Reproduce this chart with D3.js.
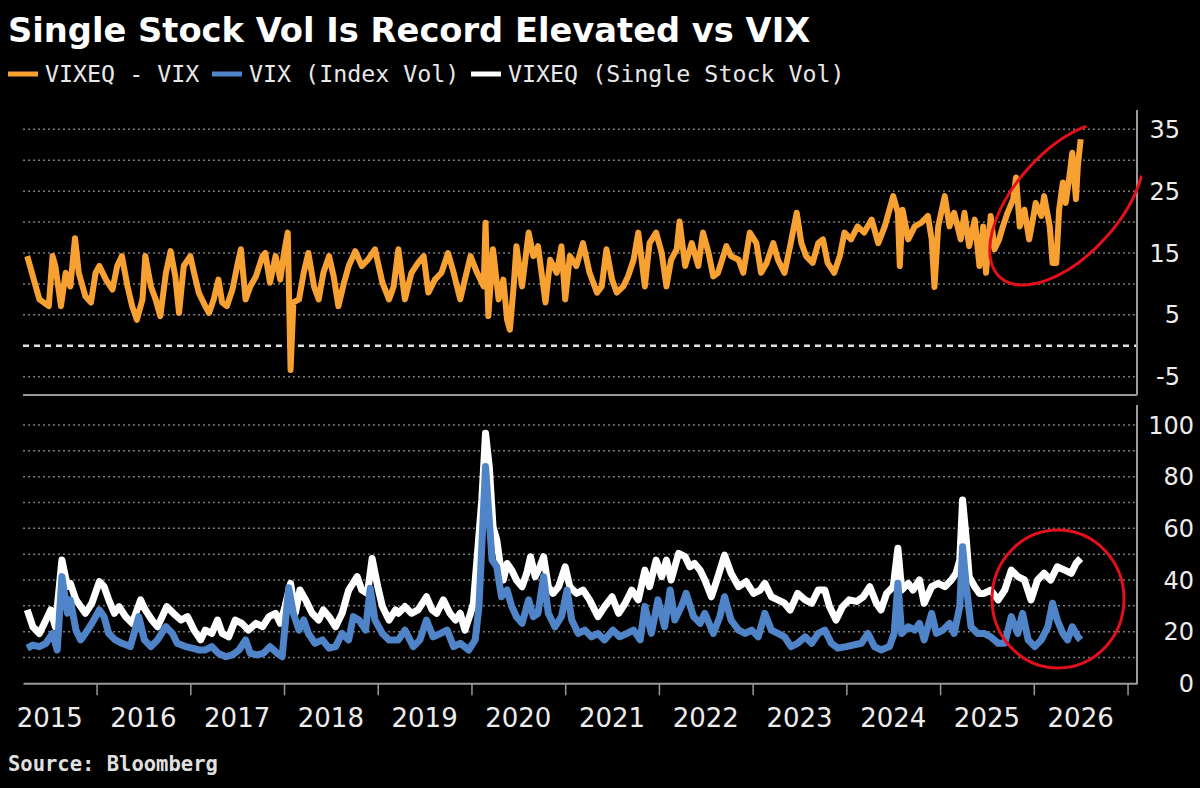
<!DOCTYPE html>
<html>
<head>
<meta charset="utf-8">
<script src="https://cdn.jsdelivr.net/npm/d3@7"></script>
<style>
    body { margin: 0; background: #000; }
    svg { display: block; }
    .grid { stroke: #7a7a7a; stroke-width: 1.5; stroke-dasharray: 2,3; }
    .zero { stroke: #e0e0e0; stroke-width: 2.5; stroke-dasharray: 6,5; }
    .axisline { stroke: #9a9a9a; stroke-width: 2; }
    .ylab { fill: #ececec; font-family: "DejaVu Sans", sans-serif; font-size: 24px; }
    .xlab { fill: #ececec; font-family: "DejaVu Sans", sans-serif; font-size: 26px; }
    .legend { fill: #e8e8e8; font-family: "DejaVu Sans Mono", monospace; font-size: 23.3px; }
</style>
</head>
<body>
<svg id="chart" width="1200" height="788"></svg>
<script>
// VIXEQ - VIX (top panel)
const spreadYears = [
    2015.26, 2015.39, 2015.49, 2015.53, 2015.56, 2015.62, 2015.67, 2015.72, 2015.77, 2015.81, 2015.88, 2015.94, 2015.99,
    2016.03, 2016.10, 2016.17, 2016.22, 2016.27, 2016.33, 2016.38, 2016.43, 2016.49, 2016.52, 2016.58, 2016.63, 2016.68,
    2016.74, 2016.79, 2016.84, 2016.88, 2016.93, 2017.00, 2017.04, 2017.09, 2017.16, 2017.20, 2017.25, 2017.30, 2017.34,
    2017.39, 2017.45, 2017.50, 2017.54, 2017.59, 2017.64, 2017.70, 2017.77, 2017.80, 2017.85, 2017.91, 2017.96, 2018.00,
    2018.04, 2018.07, 2018.10, 2018.16, 2018.21, 2018.26, 2018.32, 2018.37, 2018.42, 2018.48, 2018.53, 2018.58, 2018.64,
    2018.69, 2018.76, 2018.83, 2018.90, 2018.97, 2019.05, 2019.12, 2019.17, 2019.22, 2019.29, 2019.36, 2019.43, 2019.49,
    2019.54, 2019.61, 2019.68, 2019.75, 2019.81, 2019.88, 2019.93, 2019.99, 2020.06, 2020.13, 2020.15, 2020.18, 2020.23,
    2020.29, 2020.34, 2020.38, 2020.41, 2020.45, 2020.48, 2020.54, 2020.61, 2020.66, 2020.71, 2020.79, 2020.84, 2020.91,
    2020.96, 2021.00, 2021.05, 2021.12, 2021.19, 2021.26, 2021.34, 2021.39, 2021.44, 2021.50, 2021.55, 2021.62, 2021.67,
    2021.73, 2021.78, 2021.85, 2021.90, 2021.97, 2022.03, 2022.08, 2022.13, 2022.19, 2022.22, 2022.28, 2022.35, 2022.42,
    2022.47, 2022.53, 2022.58, 2022.63, 2022.72, 2022.77, 2022.85, 2022.90, 2022.97, 2023.04, 2023.09, 2023.15, 2023.22,
    2023.27, 2023.34, 2023.40, 2023.47, 2023.52, 2023.57, 2023.64, 2023.70, 2023.75, 2023.80, 2023.87, 2023.93, 2023.98,
    2024.05, 2024.12, 2024.19, 2024.27, 2024.34, 2024.41, 2024.50, 2024.55, 2024.57, 2024.60, 2024.66, 2024.73, 2024.80,
    2024.87, 2024.91, 2024.94, 2024.98, 2025.05, 2025.10, 2025.15, 2025.22, 2025.26, 2025.31, 2025.37, 2025.42, 2025.46,
    2025.49, 2025.54, 2025.58, 2025.63, 2025.67, 2025.72, 2025.78, 2025.81, 2025.85, 2025.90, 2025.95, 2025.99, 2026.02,
    2026.08, 2026.11, 2026.17, 2026.20, 2026.24, 2026.27, 2026.31, 2026.34, 2026.38, 2026.41, 2026.45, 2026.47, 2026.50
];
const spreadValues = [
    14.5, 7.5, 6.4, 14.5, 12.9, 6.4, 11.8, 9.6, 17.4, 11.8, 8.0, 7.0, 11.8,
    12.9, 10.7, 9.1, 12.9, 14.5, 9.6, 6.4, 4.2, 7.5, 14.5, 9.6, 7.5, 4.8,
    11.8, 15.3, 11.2, 5.3, 12.9, 14.5, 11.8, 8.6, 6.4, 5.3, 7.5, 10.7, 7.0,
    6.4, 9.1, 12.9, 15.6, 7.5, 9.6, 11.2, 14.5, 15.0, 10.2, 14.5, 10.7, 15.0,
    18.3, -3.9, 7.0, 7.5, 11.8, 15.0, 9.6, 7.5, 11.8, 14.5, 11.2, 6.4, 10.2,
    12.9, 15.3, 12.9, 14.0, 15.6, 10.2, 7.5, 9.6, 15.6, 7.5, 11.8, 13.4, 14.5,
    8.6, 10.7, 11.8, 15.0, 11.8, 7.5, 10.7, 14.5, 11.8, 9.6, 19.9, 4.8, 15.6,
    7.5, 10.7, 4.2, 2.6, 9.6, 16.1, 9.6, 18.3, 14.5, 16.1, 7.0, 13.9, 11.8,
    16.1, 7.5, 14.5, 12.9, 16.6, 11.8, 8.6, 9.6, 15.6, 10.7, 8.6, 9.6, 11.2,
    13.9, 18.3, 9.6, 16.6, 18.3, 15.0, 9.6, 13.9, 15.6, 20.1, 12.9, 16.6, 12.9,
    18.3, 15.0, 11.2, 11.8, 16.1, 14.5, 13.9, 11.8, 18.3, 16.6, 11.8, 13.4, 16.6,
    13.9, 11.8, 16.1, 21.5, 16.6, 14.5, 13.4, 16.6, 17.2, 13.4, 11.8, 14.5, 18.3,
    17.2, 19.3, 18.3, 20.4, 16.6, 19.3, 24.2, 21.5, 12.9, 22.0, 17.2, 19.3, 19.9,
    21.0, 17.2, 9.5, 19.3, 24.2, 19.3, 21.5, 17.2, 21.5, 16.1, 20.4, 12.9, 19.3,
    11.8, 21.0, 15.6, 17.2, 19.3, 21.5, 23.7, 27.2, 19.3, 22.0, 17.2, 20.4, 23.1,
    21.0, 24.2, 19.3, 13.4, 13.4, 22.0, 26.4, 23.1, 27.4, 31.2, 23.7, 29.1, 33.4
];

// VIXEQ (Single Stock Vol), bottom panel
const vixeqYears = [
    2015.26, 2015.32, 2015.39, 2015.46, 2015.51, 2015.56, 2015.63, 2015.69, 2015.72, 2015.78, 2015.83, 2015.88, 2015.95,
    2016.03, 2016.08, 2016.13, 2016.19, 2016.24, 2016.31, 2016.38, 2016.47, 2016.52, 2016.59, 2016.65, 2016.75, 2016.82,
    2016.90, 2016.97, 2017.04, 2017.11, 2017.16, 2017.23, 2017.29, 2017.34, 2017.41, 2017.48, 2017.55, 2017.62, 2017.70,
    2017.77, 2017.84, 2017.91, 2017.96, 2018.01, 2018.07, 2018.12, 2018.17, 2018.23, 2018.30, 2018.37, 2018.42, 2018.48,
    2018.55, 2018.62, 2018.69, 2018.78, 2018.83, 2018.89, 2018.94, 2019.00, 2019.05, 2019.12, 2019.19, 2019.22, 2019.29,
    2019.36, 2019.43, 2019.52, 2019.58, 2019.63, 2019.70, 2019.77, 2019.83, 2019.88, 2019.93, 2019.99, 2020.02, 2020.07,
    2020.11, 2020.15, 2020.19, 2020.23, 2020.27, 2020.31, 2020.34, 2020.38, 2020.43, 2020.48, 2020.54, 2020.59, 2020.63,
    2020.68, 2020.73, 2020.77, 2020.82, 2020.87, 2020.93, 2021.00, 2021.05, 2021.12, 2021.19, 2021.26, 2021.35, 2021.42,
    2021.50, 2021.57, 2021.64, 2021.71, 2021.78, 2021.85, 2021.90, 2021.97, 2022.03, 2022.08, 2022.13, 2022.21, 2022.28,
    2022.33, 2022.38, 2022.44, 2022.49, 2022.56, 2022.63, 2022.70, 2022.77, 2022.85, 2022.93, 2023.01, 2023.08, 2023.13,
    2023.20, 2023.27, 2023.34, 2023.40, 2023.45, 2023.48, 2023.56, 2023.63, 2023.70, 2023.77, 2023.82, 2023.89, 2023.96,
    2024.03, 2024.11, 2024.18, 2024.25, 2024.32, 2024.37, 2024.43, 2024.50, 2024.55, 2024.59, 2024.66, 2024.71, 2024.78,
    2024.83, 2024.91, 2024.98, 2025.05, 2025.12, 2025.17, 2025.21, 2025.24, 2025.28, 2025.31, 2025.37, 2025.42, 2025.47,
    2025.54, 2025.62, 2025.69, 2025.76, 2025.83, 2025.90, 2025.97, 2026.04, 2026.11, 2026.18, 2026.25, 2026.33, 2026.40,
    2026.45, 2026.50
];
const vixeqValues = [
    28.4, 21.9, 19.3, 24.5, 28.4, 21.9, 47.7, 37.4, 38.7, 32.3, 29.7, 27.1, 31.0,
    39.4, 37.4, 32.3, 27.1, 29.7, 25.8, 23.2, 32.3, 28.4, 24.5, 21.9, 29.7, 27.1,
    24.5, 25.8, 20.6, 16.8, 20.6, 19.3, 24.5, 19.3, 18.0, 24.5, 23.2, 20.6, 23.2,
    21.9, 25.8, 27.1, 23.2, 29.7, 38.7, 27.1, 36.1, 32.3, 27.1, 24.5, 28.4, 25.8,
    21.9, 27.1, 36.1, 41.3, 36.1, 34.8, 48.3, 37.4, 29.7, 24.5, 28.4, 27.1, 29.7,
    27.1, 28.4, 33.5, 28.4, 27.1, 32.3, 27.1, 24.5, 27.1, 20.6, 27.1, 31.0, 52.9,
    71.0, 96.8, 83.9, 60.6, 55.5, 45.1, 40.0, 46.4, 43.8, 40.0, 37.4, 42.6, 49.0,
    41.3, 45.1, 49.0, 37.4, 34.8, 37.4, 45.1, 37.4, 34.8, 36.1, 32.3, 25.8, 29.7,
    33.5, 27.1, 31.0, 36.1, 32.3, 43.8, 37.4, 47.7, 41.3, 47.7, 40.0, 50.3, 49.0,
    45.1, 46.4, 43.8, 40.0, 33.5, 41.3, 49.6, 42.6, 37.4, 39.4, 34.8, 36.1, 38.7,
    33.5, 32.3, 31.0, 28.4, 32.3, 34.8, 32.3, 31.0, 36.1, 36.1, 29.7, 24.5, 29.7,
    32.3, 31.7, 33.5, 37.4, 31.0, 28.4, 34.8, 37.4, 52.3, 36.1, 38.7, 36.1, 40.0,
    31.0, 37.4, 38.7, 37.4, 40.0, 42.6, 47.7, 71.0, 55.5, 41.3, 37.4, 34.8, 34.8,
    36.1, 32.3, 36.1, 43.8, 41.3, 40.0, 32.3, 40.0, 42.6, 40.0, 45.1, 43.8, 42.6,
    46.4, 48.3
];

// VIX (Index Vol), bottom panel
const vixYears = [
    2015.26, 2015.32, 2015.39, 2015.46, 2015.53, 2015.58, 2015.63, 2015.69, 2015.72, 2015.78, 2015.83, 2015.88, 2015.95,
    2016.03, 2016.08, 2016.13, 2016.20, 2016.27, 2016.36, 2016.45, 2016.51, 2016.58, 2016.65, 2016.74, 2016.81, 2016.86,
    2016.95, 2017.02, 2017.09, 2017.16, 2017.23, 2017.30, 2017.38, 2017.45, 2017.52, 2017.59, 2017.64, 2017.71, 2017.78,
    2017.85, 2017.93, 2017.98, 2018.05, 2018.10, 2018.16, 2018.21, 2018.26, 2018.33, 2018.41, 2018.48, 2018.55, 2018.62,
    2018.69, 2018.74, 2018.80, 2018.87, 2018.92, 2018.97, 2019.05, 2019.12, 2019.22, 2019.29, 2019.38, 2019.45, 2019.52,
    2019.59, 2019.67, 2019.74, 2019.81, 2019.88, 2019.97, 2020.04, 2020.08, 2020.13, 2020.15, 2020.18, 2020.22, 2020.27,
    2020.32, 2020.38, 2020.43, 2020.48, 2020.54, 2020.61, 2020.66, 2020.71, 2020.77, 2020.82, 2020.89, 2020.96, 2021.02,
    2021.07, 2021.14, 2021.21, 2021.28, 2021.35, 2021.42, 2021.51, 2021.58, 2021.66, 2021.73, 2021.80, 2021.85, 2021.92,
    2021.99, 2022.06, 2022.12, 2022.17, 2022.24, 2022.29, 2022.37, 2022.44, 2022.49, 2022.58, 2022.65, 2022.70, 2022.77,
    2022.85, 2022.92, 2022.99, 2023.06, 2023.13, 2023.20, 2023.27, 2023.34, 2023.41, 2023.48, 2023.56, 2023.63, 2023.70,
    2023.77, 2023.84, 2023.91, 2024.00, 2024.07, 2024.16, 2024.23, 2024.30, 2024.37, 2024.46, 2024.51, 2024.55, 2024.59,
    2024.66, 2024.73, 2024.78, 2024.83, 2024.91, 2024.96, 2025.03, 2025.10, 2025.15, 2025.21, 2025.24, 2025.28, 2025.33,
    2025.40, 2025.47, 2025.54, 2025.62, 2025.69, 2025.76, 2025.83, 2025.88, 2025.94, 2026.01, 2026.08, 2026.15, 2026.20,
    2026.25, 2026.31, 2026.36, 2026.41, 2026.47, 2026.50
];
const vixValues = [
    13.6, 14.8, 14.2, 15.5, 19.3, 12.9, 41.3, 27.1, 32.3, 20.6, 16.8, 19.3, 23.2,
    28.4, 25.8, 19.3, 16.8, 15.5, 14.2, 25.8, 16.8, 14.2, 16.8, 21.9, 19.3, 15.5,
    14.2, 13.6, 12.9, 12.9, 14.2, 11.6, 10.3, 11.0, 12.9, 16.8, 11.6, 11.0, 11.6,
    14.2, 11.6, 10.3, 37.0, 27.1, 20.6, 24.5, 19.3, 15.5, 16.8, 13.6, 14.2, 19.3,
    16.8, 25.8, 24.5, 20.6, 36.8, 24.5, 19.3, 16.8, 16.8, 20.6, 14.2, 16.8, 24.5,
    18.0, 19.3, 20.6, 14.2, 15.5, 12.9, 16.8, 29.7, 68.4, 83.9, 68.4, 47.7, 45.1,
    33.5, 36.1, 29.7, 25.8, 23.2, 32.3, 25.8, 27.1, 41.3, 27.1, 21.9, 25.8, 36.1,
    24.5, 19.3, 20.6, 18.0, 19.3, 16.8, 20.6, 18.0, 19.3, 20.6, 16.8, 29.7, 19.3,
    32.3, 21.9, 36.1, 24.5, 29.7, 34.8, 25.8, 23.2, 27.1, 19.3, 25.8, 33.5, 24.5,
    20.6, 19.3, 20.6, 18.0, 27.1, 20.6, 19.3, 18.0, 14.2, 15.5, 18.0, 15.5, 19.3,
    20.6, 15.5, 13.6, 14.2, 14.8, 15.5, 19.3, 14.2, 12.9, 14.2, 19.3, 38.7, 19.3,
    21.9, 20.6, 23.2, 16.8, 27.1, 19.3, 20.6, 23.2, 19.3, 29.7, 52.9, 37.4, 21.9,
    19.3, 19.3, 18.0, 15.5, 15.5, 25.8, 19.3, 27.1, 16.8, 14.2, 16.8, 21.9, 31.0,
    24.5, 19.3, 16.8, 21.9, 18.0, 16.8
];

const topTicks = [35, 25, 15, 5, -5];
const topGrid = [35, 30, 25, 20, 15, 10, 5, -5];
const bottomTicks = [0, 20, 40, 60, 80, 100];
const bottomGrid = [10, 20, 30, 40, 50, 60, 70, 80, 90, 100];
const yearTicks = d3.range(2016, 2028);
const yearLabels = d3.range(2015, 2027);

const legendItems = [
    { label: 'VIXEQ - VIX', color: '#f8a133' },
    { label: 'VIX (Index Vol)', color: '#4f84c9' },
    { label: 'VIXEQ (Single Stock Vol)', color: '#ffffff' }
];

const svg = d3.select('#chart');
svg.append('rect').attr('width', 1200).attr('height', 788).attr('fill', '#000');

const plotLeft = 23, plotRight = 1137;
const x = d3.scaleLinear().domain([2015.215, 2027.101]).range([plotLeft, plotRight]);
const yTop = d3.scaleLinear().domain([-5, 35]).range([376.7, 129.3]);
const yBot = d3.scaleLinear().domain([0, 100]).range([683.3, 425]);

// title + legend
svg.append('text')
    .attr('x', 8).attr('y', 42)
    .attr('fill', '#fff')
    .style('font-family', '"DejaVu Sans", sans-serif')
    .style('font-weight', 'bold')
    .style('font-size', '33.7px')
    .text('Single Stock Vol Is Record Elevated vs VIX');

const legendX = [8, 212, 471];
legendItems.forEach((item, i) => {
    svg.append('line')
        .attr('x1', legendX[i]).attr('x2', legendX[i] + 30)
        .attr('y1', 74).attr('y2', 74)
        .attr('stroke', item.color).attr('stroke-width', 5);
    svg.append('text')
        .attr('class', 'legend')
        .attr('x', legendX[i] + 37).attr('y', 82)
        .text(item.label);
});

// clip paths for the two panels
const defs = svg.append('defs');
defs.append('clipPath').attr('id', 'clipTop')
    .append('rect').attr('x', plotLeft).attr('y', 108).attr('width', plotRight - plotLeft).attr('height', 287);
defs.append('clipPath').attr('id', 'clipBot')
    .append('rect').attr('x', plotLeft).attr('y', 403).attr('width', plotRight - plotLeft).attr('height', 280);

// gridlines
svg.selectAll('.gridTop')
    .data(topGrid)
    .enter().append('line')
    .attr('class', 'grid')
    .attr('x1', plotLeft).attr('x2', plotRight)
    .attr('y1', d => yTop(d)).attr('y2', d => yTop(d));

svg.append('line')
    .attr('class', 'zero')
    .attr('x1', plotLeft).attr('x2', plotRight)
    .attr('y1', yTop(0)).attr('y2', yTop(0));

svg.selectAll('.gridBot')
    .data(bottomGrid)
    .enter().append('line')
    .attr('class', 'grid')
    .attr('x1', plotLeft).attr('x2', plotRight)
    .attr('y1', d => yBot(d)).attr('y2', d => yBot(d));

// axis lines
svg.append('line').attr('class', 'axisline')
    .attr('x1', plotLeft).attr('x2', plotRight).attr('y1', 395).attr('y2', 395);
svg.append('line').attr('class', 'axisline')
    .attr('x1', plotRight).attr('x2', plotRight).attr('y1', 110).attr('y2', 395);
svg.append('line').attr('class', 'axisline')
    .attr('x1', plotRight).attr('x2', plotRight).attr('y1', 405).attr('y2', 684);

const xAxis = svg.append('g')
    .attr('transform', `translate(0,${yBot(0)})`)
    .call(d3.axisBottom(x).tickValues(yearTicks).tickSize(12).tickSizeOuter(0).tickFormat(''));
xAxis.select('.domain').attr('stroke', '#9a9a9a').attr('stroke-width', 2);
xAxis.selectAll('.tick line').attr('stroke', '#9a9a9a').attr('stroke-width', 1.5);

svg.selectAll('.xlab')
    .data(yearLabels)
    .enter().append('text')
    .attr('class', 'xlab')
    .attr('x', d => x(d + 0.5))
    .attr('y', 727)
    .attr('text-anchor', 'middle')
    .text(String);

svg.selectAll('.ylabTop')
    .data(topTicks)
    .enter().append('text')
    .attr('class', 'ylab')
    .attr('x', 1180)
    .attr('y', d => yTop(d))
    .attr('dy', '0.36em')
    .attr('text-anchor', 'end')
    .text(d => d < 0 ? '-' + Math.abs(d) : d);

svg.selectAll('.ylabBot')
    .data(bottomTicks)
    .enter().append('text')
    .attr('class', 'ylab')
    .attr('x', 1194)
    .attr('y', d => yBot(d))
    .attr('dy', '0.36em')
    .attr('text-anchor', 'end')
    .text(String);

// series
const lineTop = d3.line().x(d => x(d[0])).y(d => yTop(d[1]));
const lineBot = d3.line().x(d => x(d[0])).y(d => yBot(d[1]));

svg.append('path')
    .datum(d3.zip(spreadYears, spreadValues))
    .attr('clip-path', 'url(#clipTop)')
    .attr('d', lineTop)
    .attr('fill', 'none')
    .attr('stroke', legendItems[0].color)
    .attr('stroke-width', 6)
    .attr('stroke-linejoin', 'round');

svg.append('path')
    .datum(d3.zip(vixeqYears, vixeqValues))
    .attr('clip-path', 'url(#clipBot)')
    .attr('d', lineBot)
    .attr('fill', 'none')
    .attr('stroke', legendItems[2].color)
    .attr('stroke-width', 7)
    .attr('stroke-linejoin', 'round');

svg.append('path')
    .datum(d3.zip(vixYears, vixValues))
    .attr('clip-path', 'url(#clipBot)')
    .attr('d', lineBot)
    .attr('fill', 'none')
    .attr('stroke', legendItems[1].color)
    .attr('stroke-width', 7)
    .attr('stroke-linejoin', 'round');

// red annotation ellipses
svg.append('ellipse')
    .attr('clip-path', 'url(#clipTop)')
    .attr('cx', 1067).attr('cy', 203)
    .attr('rx', 100).attr('ry', 52)
    .attr('transform', 'rotate(-48,1067,203)')
    .attr('fill', 'none').attr('stroke', '#e3101b').attr('stroke-width', 3);

svg.append('ellipse')
    .attr('cx', 1058).attr('cy', 599)
    .attr('rx', 66).attr('ry', 69)
    .attr('fill', 'none').attr('stroke', '#e3101b').attr('stroke-width', 3);

svg.append('text')
    .attr('x', 8).attr('y', 771)
    .attr('fill', '#e0e0e0')
    .style('font-family', '"DejaVu Sans Mono", monospace')
    .style('font-weight', 'bold')
    .style('font-size', '20.5px')
    .text('Source: Bloomberg');
</script>
</body>
</html>
